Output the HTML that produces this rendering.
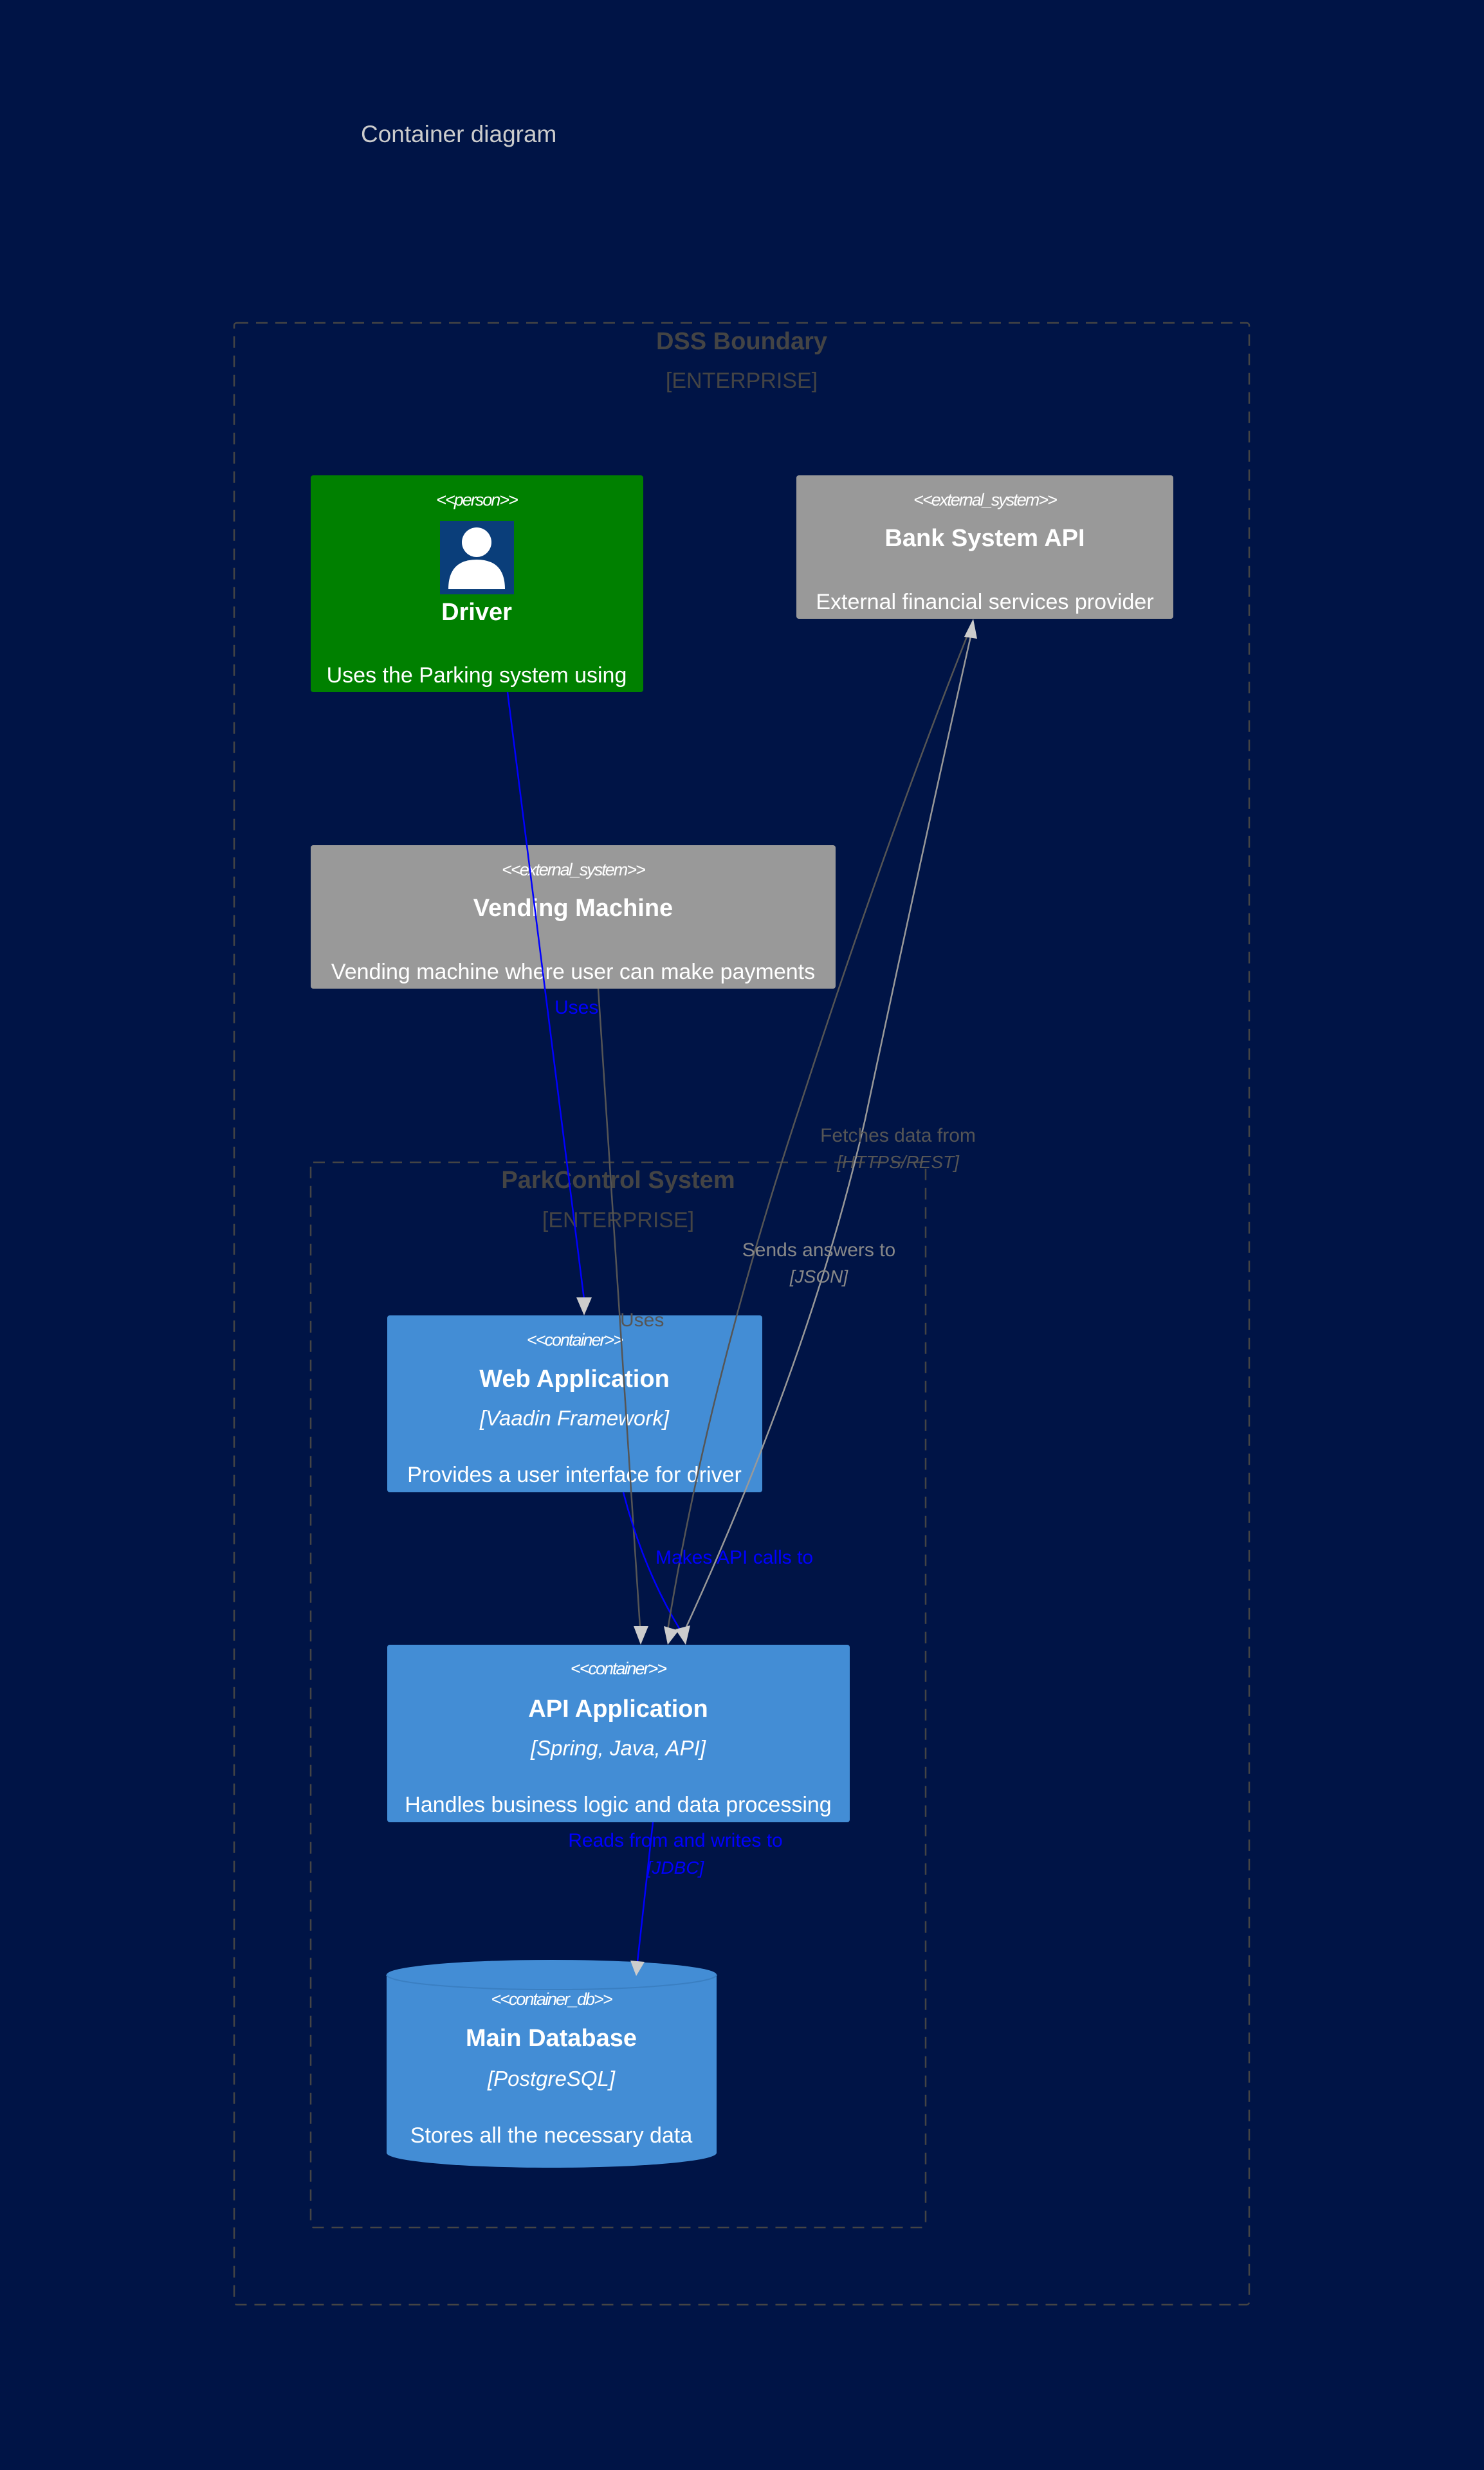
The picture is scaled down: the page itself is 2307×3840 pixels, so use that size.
<!DOCTYPE html>
<html><head><meta charset="utf-8"><style>
html,body{margin:0;padding:0;background:#001446;}
svg{display:block}
text{font-family:"Liberation Sans",sans-serif;}
.st{font-size:27px;font-style:italic;fill:#fff;letter-spacing:-2px}
.ti{font-size:38px;font-weight:bold;fill:#fff}
.te{font-size:33px;font-style:italic;fill:#fff}
.de{font-size:34px;fill:#fff}
</style></head><body>
<svg width="2307" height="3840" viewBox="0 0 2307 3840" xmlns="http://www.w3.org/2000/svg">
<rect width="2307" height="3840" fill="#001446"/>
<text x="561" y="221" font-size="37" fill="#cccccc">Container diagram</text>

<rect x="364" y="502" width="1578" height="3081" rx="4" fill="none" stroke="#444" stroke-width="2.5" stroke-dasharray="18,12"/>
<text x="1153" y="543" text-anchor="middle" font-size="38" font-weight="bold" fill="#444">DSS Boundary</text>
<text x="1153" y="603" text-anchor="middle" font-size="34" fill="#444">[ENTERPRISE]</text>

<rect x="483" y="1807" width="956" height="1656" rx="4" fill="none" stroke="#444" stroke-width="2.5" stroke-dasharray="18,12"/>
<text x="961" y="1847" text-anchor="middle" font-size="38" font-weight="bold" fill="#444">ParkControl System</text>
<text x="961" y="1908" text-anchor="middle" font-size="34" fill="#444">[ENTERPRISE]</text>

<rect x="483" y="739" width="517" height="337" rx="4" fill="#008000"/>
<text x="741" y="786" text-anchor="middle" class="st">&lt;&lt;person&gt;&gt;</text>
<rect x="684" y="810" width="115" height="114" fill="#0a3e7a"/>
<circle cx="741" cy="843" r="23" fill="#fff"/>
<path d="M697 916 Q697 870 741 870 Q785 870 785 916 Z" fill="#fff"/>
<text x="741" y="964" text-anchor="middle" class="ti">Driver</text>
<text x="741" y="1061" text-anchor="middle" class="de">Uses the Parking system using</text>

<rect x="1238" y="739" width="586" height="223" rx="4" fill="#999999"/>
<text x="1531" y="786" text-anchor="middle" class="st">&lt;&lt;external_system&gt;&gt;</text>
<text x="1531" y="849" text-anchor="middle" class="ti">Bank System API</text>
<text x="1531" y="947" text-anchor="middle" class="de">External financial services provider</text>

<rect x="483" y="1314" width="816" height="223" rx="4" fill="#999999"/>
<text x="891" y="1361" text-anchor="middle" class="st">&lt;&lt;external_system&gt;&gt;</text>
<text x="891" y="1424" text-anchor="middle" class="ti">Vending Machine</text>
<text x="891" y="1522" text-anchor="middle" class="de">Vending machine where user can make payments</text>

<rect x="602" y="2045" width="583" height="275" rx="4" fill="#438dd5"/>
<text x="893" y="2092" text-anchor="middle" class="st">&lt;&lt;container&gt;&gt;</text>
<text x="893" y="2156" text-anchor="middle" class="ti">Web Application</text>
<text x="893" y="2216" text-anchor="middle" class="te">[Vaadin Framework]</text>
<text x="893" y="2304" text-anchor="middle" class="de">Provides a user interface for driver</text>

<rect x="602" y="2557" width="719" height="276" rx="4" fill="#438dd5"/>
<text x="961" y="2603" text-anchor="middle" class="st">&lt;&lt;container&gt;&gt;</text>
<text x="961" y="2669" text-anchor="middle" class="ti">API Application</text>
<text x="961" y="2729" text-anchor="middle" class="te">[Spring, Java, API]</text>
<text x="961" y="2817" text-anchor="middle" class="de">Handles business logic and data processing</text>

<path d="M601 3070 A256 23 0 0 1 1114 3070 L1114 3347 A256 23 0 0 1 601 3347 Z" fill="#438dd5"/>
<path d="M601 3070 A256 23 0 0 0 1114 3070" fill="none" stroke="#3a7fc2" stroke-width="2"/>
<text x="857" y="3117" text-anchor="middle" class="st">&lt;&lt;container_db&gt;&gt;</text>
<text x="857" y="3181" text-anchor="middle" class="ti">Main Database</text>
<text x="857" y="3243" text-anchor="middle" class="te">[PostgreSQL]</text>
<text x="857" y="3331" text-anchor="middle" class="de">Stores all the necessary data</text>

<g fill="none" stroke-width="2.5">
<path d="M789 1076 L908 2020" stroke="#0000ff"/>
<path d="M930 1537 L995 2530" stroke="#555"/>
<path d="M969 2320 Q1000 2440 1058 2535" stroke="#0000ff"/>
<path d="M1037 2540 Q1100 2150 1250 1700 Q1380 1300 1505 985" stroke="#555"/>
<path d="M1062 2540 Q1260 2110 1345 1740 Q1430 1340 1510 985" stroke="#999"/>
<path d="M1015 2833 L991 3050" stroke="#0000ff"/>
</g>
<g fill="#cccccc">
<polygon points="908,2045 896,2017 920,2017"/>
<polygon points="996,2557 985,2528 1008,2528"/>
<polygon points="1038,2557 1032,2528 1055,2535"/>
<polygon points="1066,2557 1050,2533 1073,2527"/>
<polygon points="1513,962 1499,990 1519,993"/>
<polygon points="989,3072 980,3048 1002,3050"/>
</g>

<text x="862" y="1576" font-size="30" fill="#0000ff">Uses</text>
<text x="964" y="2062" font-size="30" fill="#555">Uses</text>
<text x="1019" y="2431" font-size="30" fill="#0000ff">Makes API calls to</text>
<text x="1396" y="1775" text-anchor="middle" font-size="30" fill="#555">Fetches data from</text>
<text x="1396" y="1816" text-anchor="middle" font-size="28" font-style="italic" fill="#555">[HTTPS/REST]</text>
<text x="1273" y="1953" text-anchor="middle" font-size="30" fill="#888">Sends answers to</text>
<text x="1273" y="1994" text-anchor="middle" font-size="28" font-style="italic" fill="#888">[JSON]</text>
<text x="1050" y="2871" text-anchor="middle" font-size="30" fill="#0000ff">Reads from and writes to</text>
<text x="1050" y="2913" text-anchor="middle" font-size="28" font-style="italic" fill="#0000ff">[JDBC]</text>
</svg>
</body></html>
